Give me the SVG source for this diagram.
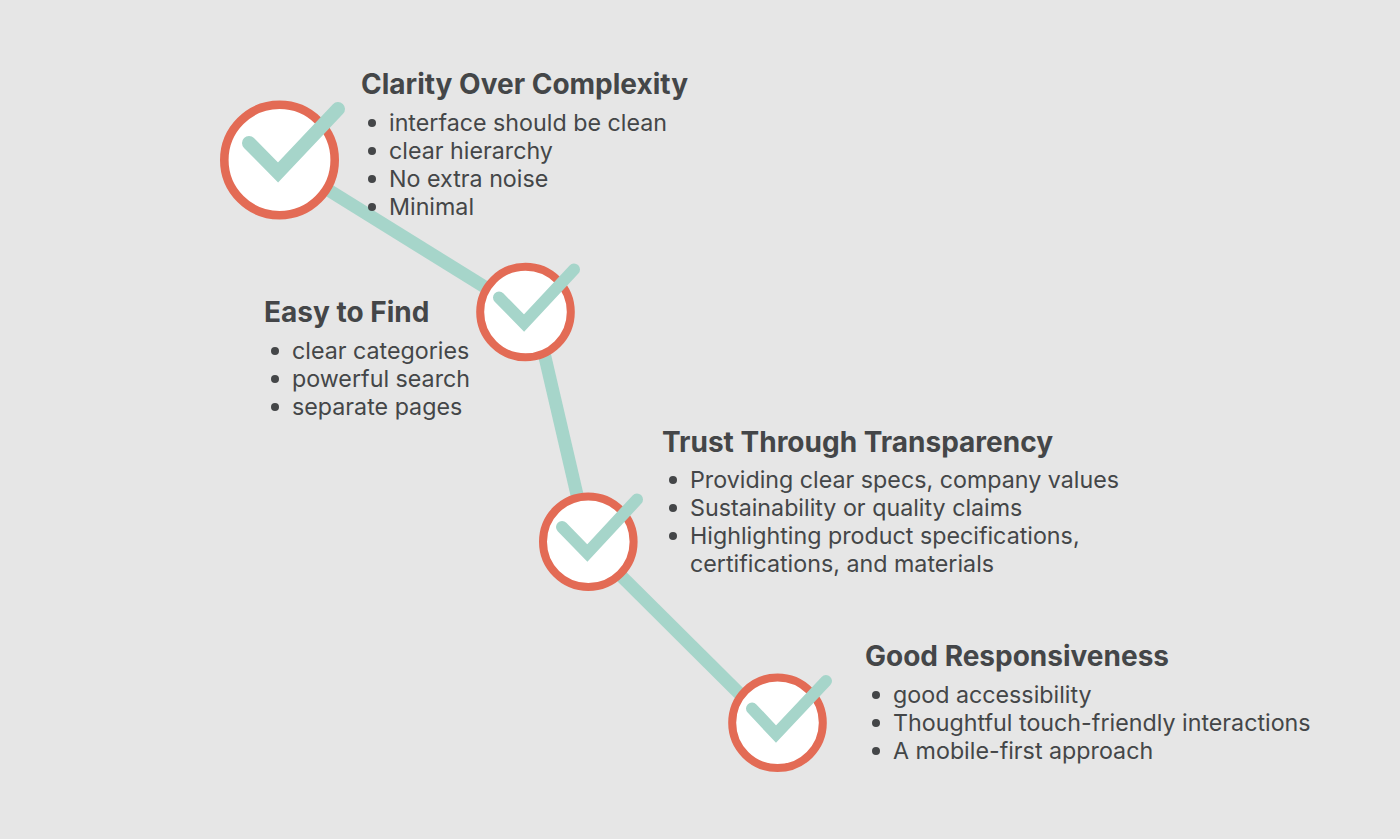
<svg xmlns="http://www.w3.org/2000/svg" width="1400" height="839" viewBox="0 0 1400 839">
<style>
text{font-family:Inter,"Noto Sans",sans-serif;fill:#444648}
.h{font-size:28px;font-weight:700}
.b{font-size:23.250px;font-weight:400}
.ring{fill:#fff;stroke:#e36b55}
.chk{fill:none;stroke:#a6d5ca;stroke-linecap:round;stroke-linejoin:miter}
.c{stroke:#a6d5ca;stroke-width:13;fill:none}
.dot{fill:#444648}
</style>
<rect width="1400" height="839" fill="#e6e6e6"/>
<g id="connectors">
<line class="c" x1="280" y1="160" x2="525" y2="312"/>
<line class="c" x1="534.500" y1="312" x2="588" y2="542"/>
<line class="c" x1="587" y1="542" x2="769" y2="723"/>
</g>
<g id="node1">
<circle class="ring" cx="279.500" cy="160" r="55.200" stroke-width="8.600"/>
<path class="chk" stroke-width="14" d="M249 143L278 172.500L338 109"/>
<text class="h" x="361" y="93.500">Clarity Over Complexity</text>
<circle class="dot" cx="372" cy="123" r="4"/><text class="b" x="389" y="131">interface should be clean</text>
<circle class="dot" cx="372" cy="151" r="4"/><text class="b" x="389" y="159">clear hierarchy</text>
<circle class="dot" cx="372" cy="179" r="4"/><text class="b" x="389" y="187">No extra noise</text>
<circle class="dot" cx="372" cy="207" r="4"/><text class="b" x="389" y="215">Minimal</text>
</g>
<g id="node2">
<circle class="ring" cx="525.500" cy="312" r="45.300" stroke-width="8"/>
<path class="chk" stroke-width="12" d="M499 297.500L524 323L574 269.500"/>
<text class="h" x="264" y="321.500">Easy to Find</text>
<circle class="dot" cx="275" cy="351" r="4"/><text class="b" x="292" y="359">clear categories</text>
<circle class="dot" cx="275" cy="379" r="4"/><text class="b" x="292" y="387">powerful search</text>
<circle class="dot" cx="275" cy="407" r="4"/><text class="b" x="292" y="415">separate pages</text>
</g>
<g id="node3">
<circle class="ring" cx="588.300" cy="541.700" r="45.300" stroke-width="8"/>
<path class="chk" stroke-width="12" d="M562 527L587.300 553L637 499.500"/>
<text class="h" x="662" y="451.500">Trust Through Transparency</text>
<circle class="dot" cx="673" cy="480" r="4"/><text class="b" x="690" y="488">Providing clear specs, company values</text>
<circle class="dot" cx="673" cy="508" r="4"/><text class="b" x="690" y="516">Sustainability or quality claims</text>
<circle class="dot" cx="673" cy="536" r="4"/><text class="b" x="690" y="544">Highlighting product specifications,</text>
<text class="b" x="690" y="572">certifications, and materials</text>
</g>
<g id="node4">
<circle class="ring" cx="777.500" cy="722.800" r="45.300" stroke-width="8"/>
<path class="chk" stroke-width="12" d="M752 708.500L776 734L826 681"/>
<text class="h" x="865" y="665.500">Good Responsiveness</text>
<circle class="dot" cx="876" cy="695" r="4"/><text class="b" x="893" y="703">good accessibility</text>
<circle class="dot" cx="876" cy="723" r="4"/><text class="b" x="893" y="731">Thoughtful touch-friendly interactions</text>
<circle class="dot" cx="876" cy="751" r="4"/><text class="b" x="893" y="759">A mobile-first approach</text>
</g>
</svg>
